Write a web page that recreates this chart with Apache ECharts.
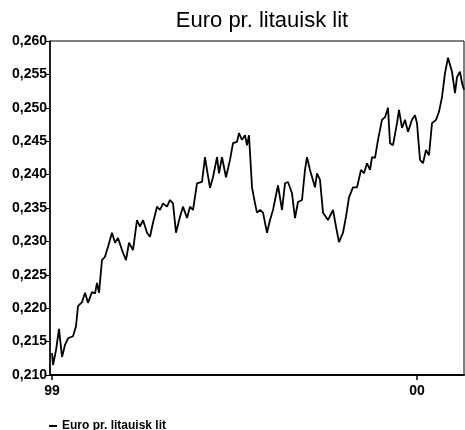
<!DOCTYPE html>
<html>
<head>
<meta charset="utf-8">
<script src="https://cdn.jsdelivr.net/npm/echarts@6/dist/echarts.min.js"></script>
<style>
  html, body { margin: 0; padding: 0; background: #fff; }
  #chart { width: 465px; height: 430px; }
</style>
</head>
<body>
<div id="chart"></div>
<script>
// Euro per Lithuanian litas
const dates = [
  '1999-01-01', '1999-01-02', '1999-01-05', '1999-01-08', '1999-01-11', '1999-01-14', '1999-01-17', '1999-01-22',
  '1999-01-25', '1999-01-27', '1999-01-31', '1999-02-03', '1999-02-06', '1999-02-10', '1999-02-13', '1999-02-15',
  '1999-02-17', '1999-02-20', '1999-02-23', '1999-02-26', '1999-03-02', '1999-03-05', '1999-03-08', '1999-03-12',
  '1999-03-16', '1999-03-19', '1999-03-23', '1999-03-27', '1999-03-30', '1999-04-02', '1999-04-06', '1999-04-09',
  '1999-04-12', '1999-04-16', '1999-04-19', '1999-04-22', '1999-04-26', '1999-04-29', '1999-05-02', '1999-05-05',
  '1999-05-09', '1999-05-12', '1999-05-16', '1999-05-19', '1999-05-22', '1999-05-26', '1999-05-31', '1999-06-03',
  '1999-06-05', '1999-06-08', '1999-06-11', '1999-06-15', '1999-06-17', '1999-06-20', '1999-06-24', '1999-06-28',
  '1999-07-01', '1999-07-05', '1999-07-07', '1999-07-10', '1999-07-13', '1999-07-15', '1999-07-17', '1999-07-20',
  '1999-07-23', '1999-07-25', '1999-07-28', '1999-07-31', '1999-08-04', '1999-08-07', '1999-08-10', '1999-08-15',
  '1999-08-19', '1999-08-22', '1999-08-25', '1999-08-29', '1999-09-01', '1999-09-04', '1999-09-08', '1999-09-11',
  '1999-09-13', '1999-09-16', '1999-09-21', '1999-09-23', '1999-09-26', '1999-09-29', '1999-10-04', '1999-10-09',
  '1999-10-12', '1999-10-15', '1999-10-19', '1999-10-22', '1999-10-25', '1999-10-29', '1999-11-02', '1999-11-06',
  '1999-11-09', '1999-11-12', '1999-11-15', '1999-11-17', '1999-11-20', '1999-11-23', '1999-11-27', '1999-11-30',
  '1999-12-03', '1999-12-05', '1999-12-08', '1999-12-12', '1999-12-14', '1999-12-17', '1999-12-20', '1999-12-23',
  '1999-12-27', '1999-12-30', '2000-01-01', '2000-01-04', '2000-01-07', '2000-01-10', '2000-01-13', '2000-01-16',
  '2000-01-20', '2000-01-23', '2000-01-26', '2000-01-29', '2000-02-01', '2000-02-05', '2000-02-08', '2000-02-10',
  '2000-02-13', '2000-02-15', '2000-02-17'
]

const rates = [
  0.2133, 0.2115, 0.2137, 0.2169, 0.2127, 0.2145, 0.2155, 0.2158,
  0.2173, 0.2203, 0.2209, 0.2223, 0.2208, 0.2224, 0.2222, 0.2238,
  0.2223, 0.2272, 0.2277, 0.2292, 0.2313, 0.2298, 0.2305, 0.2287,
  0.2272, 0.2298, 0.2287, 0.2332, 0.2322, 0.2332, 0.2313, 0.2307,
  0.2328, 0.2352, 0.2347, 0.2357, 0.2352, 0.2362, 0.2357, 0.2313,
  0.2337, 0.2352, 0.2335, 0.2352, 0.2347, 0.2387, 0.2389, 0.2426,
  0.2407, 0.2380, 0.2396, 0.2426, 0.2402, 0.2426, 0.2396, 0.2422,
  0.2447, 0.2449, 0.2462, 0.2452, 0.2459, 0.2444, 0.2459, 0.2381,
  0.2357, 0.2343, 0.2347, 0.2343, 0.2313, 0.2332, 0.2347, 0.2384,
  0.2347, 0.2387, 0.2389, 0.2372, 0.2335, 0.2359, 0.2362, 0.2407,
  0.2426, 0.2407, 0.2381, 0.2402, 0.2392, 0.2343, 0.2332, 0.2347,
  0.2322, 0.2299, 0.2313, 0.2337, 0.2366, 0.2381, 0.2381, 0.2407,
  0.2402, 0.2417, 0.2407, 0.2426, 0.2425, 0.2452, 0.2482, 0.2486,
  0.2500, 0.2447, 0.2444, 0.2477, 0.2497, 0.2470, 0.2482, 0.2464,
  0.2482, 0.2489, 0.2477, 0.2422, 0.2417, 0.2437, 0.2429, 0.2477,
  0.2482, 0.2494, 0.2516, 0.2552, 0.2575, 0.2554, 0.2522, 0.2546,
  0.2554, 0.2537, 0.2527
]

const yearTicks = ['1999-01-01', '2000-01-01']
const axisStart = '1998-12-30'
const axisEnd = '2000-02-17'

const title = 'Euro pr. litauisk lit'
const seriesName = 'Euro pr. litauisk lit'

const toTime = (s) => new Date(s + 'T00:00:00Z').getTime()

const chart = echarts.init(document.getElementById('chart'))
const font = '"Liberation Sans", Arial, Helvetica, sans-serif'

chart.setOption({
  animation: false,
  backgroundColor: '#fff',
  title: {
    text: title,
    left: 257,
    textAlign: 'center',
    top: 5,
    textStyle: { fontFamily: font, fontSize: 22, fontWeight: 'normal', color: '#000' }
  },
  legend: {
    left: 44,
    top: 415,
    icon: 'rect',
    itemWidth: 8,
    itemHeight: 2,
    itemGap: 4,
    textStyle: { fontFamily: font, fontSize: 12, fontWeight: 'bold', color: '#000' },
    data: [seriesName]
  },
  grid: {
    left: 50, right: 1, top: 41, bottom: 55,
    show: true, borderColor: '#000', borderWidth: 1
  },
  xAxis: {
    type: 'value',
    min: toTime(axisStart),
    max: toTime(axisEnd),
    splitLine: { show: false },
    axisLine: { lineStyle: { color: '#000', width: 2 } },
    axisTick: {
      length: 5,
      lineStyle: { color: '#000', width: 1.5 },
      customValues: yearTicks.map(toTime)
    },
    axisLabel: {
      customValues: yearTicks.map(toTime),
      margin: 9,
      fontFamily: font,
      fontSize: 14,
      fontWeight: 'bold',
      color: '#000',
      formatter: (v) => String(new Date(v).getUTCFullYear()).slice(2)
    }
  },
  yAxis: {
    type: 'value',
    min: 0.21,
    max: 0.26,
    interval: 0.005,
    splitLine: { show: false },
    axisLine: { show: true, lineStyle: { color: '#000', width: 1.5 } },
    axisTick: { show: true, length: 5, lineStyle: { color: '#000', width: 1 } },
    axisLabel: {
      margin: 3,
      fontFamily: font,
      fontSize: 14,
      fontWeight: 'bold',
      color: '#000',
      formatter: (v) => v.toFixed(3).replace('.', ',')
    }
  },
  series: [
    {
      name: seriesName,
      type: 'line',
      data: dates.map((d, i) => [toTime(d), rates[i]]),
      showSymbol: false,
      symbol: 'none',
      lineStyle: { color: '#000', width: 1.8 },
      itemStyle: { color: '#000' }
    }
  ]
})
</script>
</body>
</html>
